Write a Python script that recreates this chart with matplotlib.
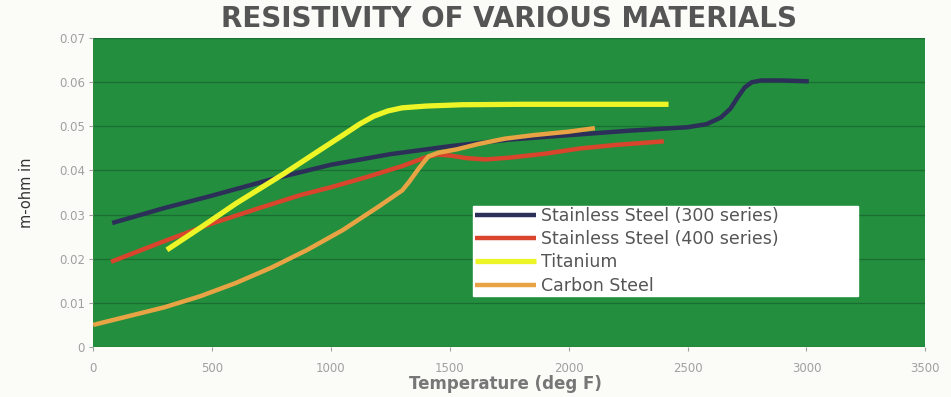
import numpy as np
import matplotlib.pyplot as plt

# readings taken off the original chart (deg F, m-ohm in)
ss300_temp = [80, 300, 500, 750, 1000, 1250, 1500, 1750, 2000, 2250, 2500, 2580, 2640, 2680, 2710, 2740, 2770, 2810, 2900, 3010]
ss300_res = [0.0281, 0.0315, 0.0343, 0.0380, 0.0413, 0.0437, 0.0455, 0.0470, 0.0480, 0.0490, 0.0498, 0.0505, 0.0520, 0.0540, 0.0565, 0.0588, 0.0600, 0.0604, 0.0604, 0.0602]

ss400_temp = [75, 300, 500, 700, 870, 1000, 1150, 1300, 1400, 1450, 1500, 1570, 1650, 1750, 1900, 2050, 2200, 2400]
ss400_res = [0.0193, 0.0240, 0.0280, 0.0315, 0.0344, 0.0362, 0.0385, 0.0410, 0.0430, 0.0436, 0.0434, 0.0428, 0.0425, 0.0429, 0.0438, 0.0450, 0.0458, 0.0466]

ti_temp = [310, 450, 600, 800, 950, 1050, 1120, 1180, 1240, 1300, 1400, 1550, 1800, 2100, 2420]
ti_res = [0.0220, 0.0270, 0.0325, 0.0392, 0.0445, 0.0480, 0.0505, 0.0523, 0.0535, 0.0542, 0.0546, 0.0549, 0.0550, 0.0550, 0.0550]

cs_temp = [0, 150, 300, 450, 600, 750, 900, 1050, 1200, 1300, 1330, 1370, 1410, 1450, 1530, 1620, 1730, 1850, 2000, 2110]
cs_res = [0.0050, 0.0070, 0.0090, 0.0115, 0.0145, 0.0180, 0.0220, 0.0265, 0.0318, 0.0355, 0.0375, 0.0405, 0.0432, 0.0440, 0.0448, 0.0460, 0.0472, 0.0480, 0.0488, 0.0496]

x_ticks = [0, 500, 1000, 1500, 2000, 2500, 3000, 3500]
y_ticks = [0, 0.01, 0.02, 0.03, 0.04, 0.05, 0.06, 0.07]
y_tick_labels = ['0', '0.01', '0.02', '0.03', '0.04', '0.05', '0.06', '0.07']

plt.rcParams['font.family'] = ['DejaVu Sans']

fig = plt.figure(figsize=(9.51, 3.97), dpi=100)
fig.patch.set_facecolor('#fbfbf8')
ax = fig.add_axes([0.098, 0.126, 0.875, 0.778])
ax.set_facecolor('#238e3d')

ax.plot(ss300_temp, ss300_res, color='#2c2f58', lw=3.2, label='Stainless Steel (300 series)', solid_capstyle='butt')
ax.plot(ss400_temp, ss400_res, color='#d8452c', lw=3.2, label='Stainless Steel (400 series)', solid_capstyle='butt')
ax.plot(ti_temp, ti_res, color='#eef527', lw=3.8, label='Titanium', solid_capstyle='butt')
ax.plot(cs_temp, cs_res, color='#e8a444', lw=3.2, label='Carbon Steel', solid_capstyle='butt')

ax.set_xlim(0, 3500)
ax.set_ylim(0, 0.07)
ax.set_xticks(x_ticks)
ax.set_yticks(y_ticks)
ax.set_yticklabels(y_tick_labels)
ax.tick_params(axis='both', labelsize=8.5, colors='#a0a0a0', length=3)
ax.tick_params(axis='x', pad=8)
ax.tick_params(axis='y', pad=3)
ax.grid(axis='y', color='#1a6e31', lw=0.9)
ax.set_axisbelow(True)
for s in ax.spines.values():
    s.set_visible(False)

ax.set_ylabel('m-ohm in', fontsize=10.5, color='#333333', labelpad=18)
fig.text(0.532, 0.032, 'Temperature (deg F)', ha='center', va='center',
         fontsize=12, fontweight='bold', color='#777777')
fig.text(0.535, 0.952, 'RESISTIVITY OF VARIOUS MATERIALS', ha='center', va='center',
         fontsize=20, fontweight='bold', color='#555555')

leg = ax.legend(loc='lower left', bbox_to_anchor=(0.457, 0.165, 0.462, 0.288), mode='expand',
                fontsize=12.5, handlelength=3.5, labelspacing=0.3, borderpad=0.08,
                handletextpad=0.3, frameon=True, fancybox=False, borderaxespad=0)
leg.get_frame().set_facecolor('white')
leg.get_frame().set_edgecolor('white')
leg.get_frame().set_alpha(1)
for t in leg.get_texts():
    t.set_color('#555555')

fig.savefig('out.png', dpi=100)
